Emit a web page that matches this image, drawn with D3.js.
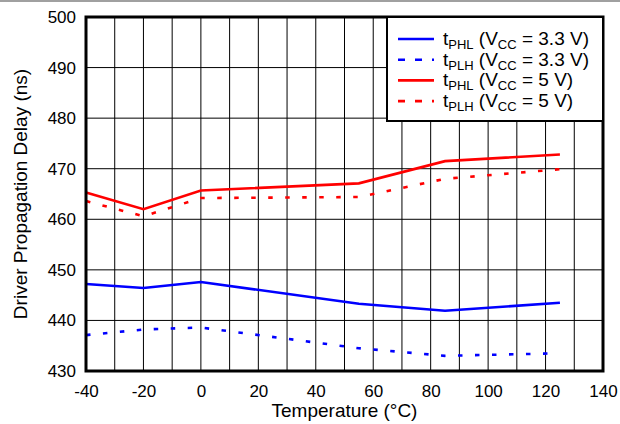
<!DOCTYPE html>
<html>
<head>
<meta charset="utf-8" />
<script src="https://d3js.org/d3.v7.min.js"></script>
<style>
  body { margin: 0; background: #fff; }
  text { font-family: "Liberation Sans", Arial, sans-serif; fill: #000; }
</style>
</head>
<body>
<div id="chart"></div>
<script>

// data
var temps = [-40, -20, 0, 55, 85, 125];
var phl33 = [447.2, 446.4, 447.6, 443.3, 441.9, 443.5];
var plh33 = [437.1, 438.2, 438.6, 434.5, 433.0, 433.5];
var phl5  = [465.3, 462.0, 465.7, 467.1, 471.5, 472.8];
var plh5  = [463.6, 460.6, 464.2, 464.4, 468.0, 469.9];
var xTicks = [-40, -20, 0, 20, 40, 60, 80, 100, 120, 140];
var yTicks = [430, 440, 450, 460, 470, 480, 490, 500];

var seriesNames = [
  {sub: "PHL", vcc: "3.3 V", color: "#0000ff", dashed: false, values: phl33},
  {sub: "PLH", vcc: "3.3 V", color: "#0000ff", dashed: true,  values: plh33},
  {sub: "PHL", vcc: "5 V",   color: "#ff0000", dashed: false, values: phl5},
  {sub: "PLH", vcc: "5 V",   color: "#ff0000", dashed: true,  values: plh5}
];

var W = 620, H = 424;
var margin = {top: 17, right: 17, bottom: 53, left: 86};
var width = W - margin.left - margin.right,
    height = H - margin.top - margin.bottom;

var root = d3.select("#chart").append("svg")
  .attr("width", W)
  .attr("height", H);

// thin grey frame line along the top of the image
root.append("line")
  .attr("x1", 0).attr("x2", W)
  .attr("y1", 1).attr("y2", 1)
  .style("stroke", "#a0a0a0")
  .style("stroke-width", 2);

var svg = root.append("g")
  .attr("transform", "translate(" + margin.left + "," + margin.top + ")");

var x = d3.scaleLinear().domain([-40, 140]).range([0, width]);
var y = d3.scaleLinear().domain([430, 500]).range([height, 0]);

// grid: verticals every 10 degC, horizontals every 10 ns
svg.append("g")
  .selectAll("line")
  .data(d3.range(-30, 140, 10))
  .enter().append("line")
    .attr("x1", function(d) { return x(d); })
    .attr("x2", function(d) { return x(d); })
    .attr("y1", 0).attr("y2", height)
    .style("stroke", "#000")
    .style("stroke-width", 1);

svg.append("g")
  .selectAll("line")
  .data(yTicks.slice(1, -1))
  .enter().append("line")
    .attr("x1", 0).attr("x2", width)
    .attr("y1", function(d) { return y(d); })
    .attr("y2", function(d) { return y(d); })
    .style("stroke", "#000")
    .style("stroke-width", 1);

// axes (labels only, frame drawn below)
var xAxis = svg.append("g")
  .attr("transform", "translate(0," + height + ")")
  .call(d3.axisBottom(x).tickValues(xTicks).tickSize(0).tickPadding(14).tickFormat(function(d) { return String(d); }));
xAxis.select(".domain").remove();
xAxis.selectAll("text")
  .style("font-size", "17px")
  .style("font-family", "'Liberation Sans', Arial, sans-serif");

var yAxis = svg.append("g")
  .call(d3.axisLeft(y).tickValues(yTicks).tickSize(0).tickPadding(10).tickFormat(function(d) { return String(d); }));
yAxis.select(".domain").remove();
yAxis.selectAll("text")
  .style("font-size", "17px")
  .style("font-family", "'Liberation Sans', Arial, sans-serif");

// lines
var line = d3.line()
  .x(function(d, i) { return x(temps[i]); })
  .y(function(d) { return y(d); });

svg.append("g")
  .selectAll("path")
  .data(seriesNames)
  .enter().append("path")
    .attr("d", function(s) { return line(s.values); })
    .style("fill", "none")
    .style("stroke", function(s) { return s.color; })
    .style("stroke-width", 2.6)
    .style("stroke-dasharray", function(s) { return s.dashed ? "4.5,12.5" : null; });

// plot frame
svg.append("rect")
  .attr("x", 0).attr("y", 0)
  .attr("width", width).attr("height", height)
  .style("fill", "none")
  .style("stroke", "#000")
  .style("stroke-width", 3);

// axis titles
svg.append("text")
  .attr("x", width / 2)
  .attr("y", height + 46)
  .attr("text-anchor", "middle")
  .style("font-size", "19px")
  .text("Temperature (\u00B0C)");

svg.append("text")
  .attr("transform", "rotate(-90)")
  .attr("x", -height / 2)
  .attr("y", -margin.left + 27)
  .attr("text-anchor", "middle")
  .style("font-size", "19px")
  .text("Driver Propagation Delay (ns)");

// legend
var legend = svg.append("g")
  .attr("transform", "translate(" + (width - 216) + ",0)");

legend.append("rect")
  .attr("x", 0).attr("y", 0)
  .attr("width", 216).attr("height", 104)
  .style("fill", "#fff")
  .style("stroke", "#000")
  .style("stroke-width", 2);

var items = legend.selectAll(".legend-item")
  .data(seriesNames)
  .enter().append("g")
  .attr("class", "legend-item")
  .attr("transform", function(d, i) { return "translate(0," + (22 + i * 20.7) + ")"; });

items.append("line")
  .attr("x1", 11).attr("x2", 47)
  .attr("y1", 0).attr("y2", 0)
  .style("stroke", function(s) { return s.color; })
  .style("stroke-width", 2.6)
  .style("stroke-dasharray", function(s) { return s.dashed ? "7,10" : null; });

var lt = items.append("text")
  .attr("x", 56)
  .attr("y", 6)
  .style("font-size", "19px");
lt.append("tspan").text("t");
lt.append("tspan").attr("dy", 4).style("font-size", "13px").text(function(s) { return s.sub; });
lt.append("tspan").attr("dy", -4).text(" (V");
lt.append("tspan").attr("dy", 4).style("font-size", "13px").text("CC");
lt.append("tspan").attr("dy", -4).text(function(s) { return " = " + s.vcc + ")"; });

</script>
</body>
</html>
